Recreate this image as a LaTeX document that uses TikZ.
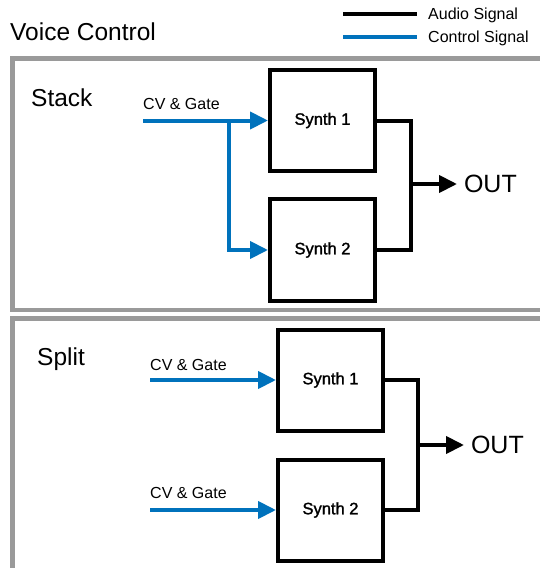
\documentclass[tikz,border=0pt]{standalone}
\usepackage{fontspec}
\setmainfont{Liberation Sans}
\newfontfamily\synthfont[FakeBold=1.6]{Liberation Sans}
\usetikzlibrary{arrows.meta}
\definecolor{ctrlblue}{HTML}{0072BC}
\definecolor{panelgray}{HTML}{9A9A9A}

\begin{document}
\begin{tikzpicture}[x=1pt, y=-1pt, >={Triangle[length=18pt,width=17pt]},
    panel/.style={draw=panelgray, line width=4.5pt},
    synth/.style={draw, line width=4pt, minimum width=105pt, minimum height=101pt,
        inner sep=0pt, font=\synthfont\fontsize{16.5}{18}\selectfont},
    ctrl/.style={draw=ctrlblue, line width=4pt},
    audio/.style={draw=black, line width=4pt},
    cvlabel/.style={anchor=base west, inner sep=0pt, font=\fontsize{16}{18}\selectfont},
    biglabel/.style={anchor=base west, inner sep=0pt, font=\fontsize{24.5}{28}\selectfont},
    legendlabel/.style={anchor=base west, inner sep=0pt, font=\fontsize{16}{18}\selectfont},
    outlabel/.style={anchor=west, inner sep=0pt, outer sep=7pt, font=\fontsize{25}{28}\selectfont}]

    % page size
    \useasboundingbox (0,0) rectangle (540,568);
    \clip (0,0) rectangle (540,568);

    % 1. title and legend
    \node[biglabel] (title) at (10,40) {Voice Control};
    \coordinate (lgaudio) at (343,14);
    \coordinate (lgctrl) at (343,37);
    \draw[audio] (lgaudio) -- +(74,0);
    \draw[ctrl] (lgctrl) -- +(74,0);
    \node[legendlabel] (lgaudiotxt) at (428,19.5) {Audio Signal};
    \node[legendlabel] (lgctrltxt) at (428,42.5) {Control Signal};

    % 2. the two panels
    \draw[panel] (12.5,58.5) rectangle (600,310);
    \draw[panel] (12.5,318.5) rectangle (600,640);

    % 3. Stack
    \node[biglabel] (stack) at (31,106) {Stack};
    \node[synth] (st1) at (322.5,120.5) {Synth 1};
    \node[synth, minimum height=102pt] (st2) at (322.5,250) {Synth 2};
    \node[cvlabel] (stcv) at (143,109) {CV \& Gate};
    \coordinate (stin) at (143,120.5);
    \coordinate (stfork) at (229,120.5);
    \draw[ctrl,->] (stin) -- (st1.west);
    \draw[ctrl,->] (stfork) |- (st2.west);
    % output
    \coordinate (stj) at (411,184);
    \node[outlabel] (stout) at (457,184) {OUT};
    \draw[audio] (st1.east) -| (stj) |- (st2.east);
    \draw[audio,->] (stj) -- (stout.west);

    % 4. Split
    \node[biglabel] (split) at (37,365) {Split};
    \node[synth] (sp1) at (330.5,380) {Synth 1};
    \node[synth] (sp2) at (330.5,510) {Synth 2};
    \node[cvlabel] (spcv1) at (150,370) {CV \& Gate};
    \node[cvlabel] (spcv2) at (150,498) {CV \& Gate};
    \coordinate (spin1) at (150,380);
    \coordinate (spin2) at (150,510);
    \draw[ctrl,->] (spin1) -- (sp1.west);
    \draw[ctrl,->] (spin2) -- (sp2.west);
    % output
    \coordinate (spj) at (418,445);
    \node[outlabel] (spout) at (464,445) {OUT};
    \draw[audio] (sp1.east) -| (spj) |- (sp2.east);
    \draw[audio,->] (spj) -- (spout.west);

\end{tikzpicture}
\end{document}
